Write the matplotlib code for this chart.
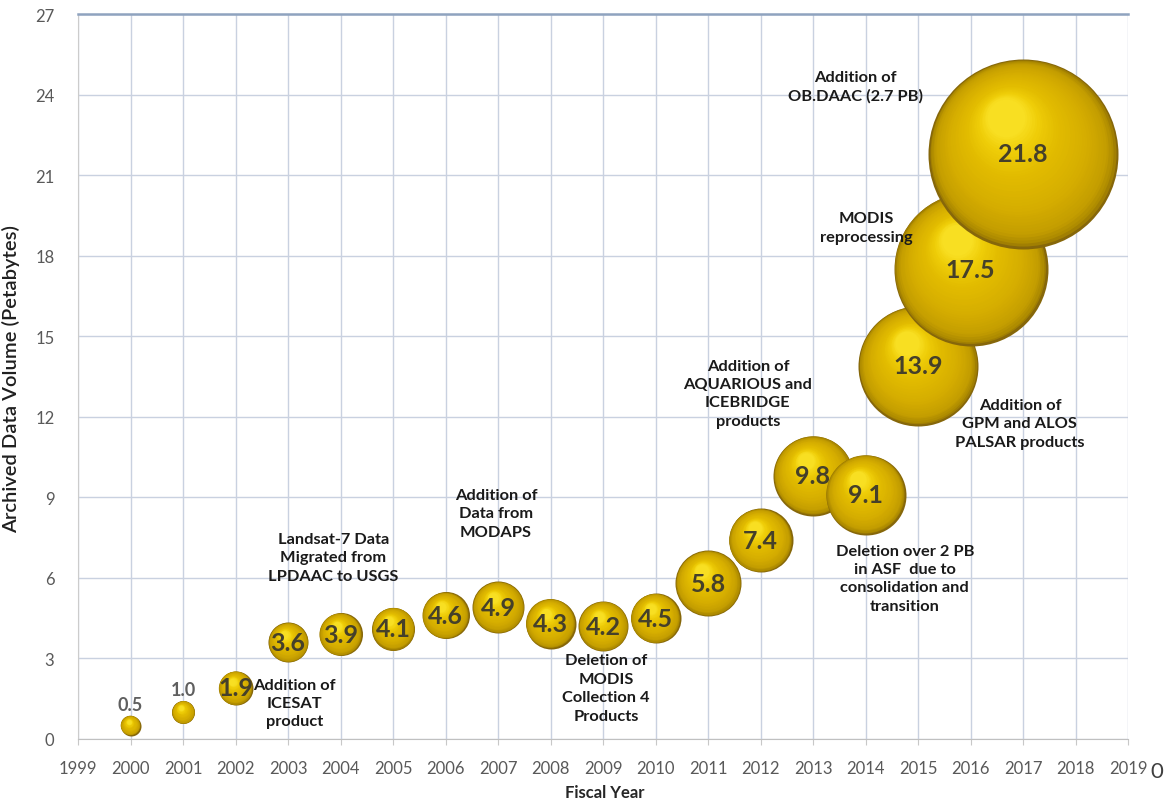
import matplotlib
matplotlib.use("Agg")
import matplotlib.pyplot as plt
from matplotlib.colors import LinearSegmentedColormap
from matplotlib.transforms import ScaledTranslation

# ---- data
years = [2000, 2001, 2002, 2003, 2004, 2005, 2006, 2007, 2008,
         2009, 2010, 2011, 2012, 2013, 2014, 2015, 2016, 2017]
volume_pb = [0.5, 1.0, 1.9, 3.6, 3.9, 4.1, 4.6, 4.9, 4.3,
             4.2, 4.5, 5.8, 7.4, 9.8, 9.1, 13.9, 17.5, 21.8]
# third (bubble size) series, relative diameter
bubble_size = [20, 23, 34, 40, 43, 43, 47, 52, 50,
               50, 50, 66, 64, 80, 80, 120, 154, 190]

x_ticks = list(range(1999, 2020))
y_ticks = list(range(0, 28, 3))

note_text = [
    "Addition of\nICESAT\nproduct",
    "Landsat-7 Data\nMigrated from\nLPDAAC to USGS",
    "Addition of\nData from\nMODAPS",
    "Deletion of\nMODIS\nCollection 4\nProducts",
    "Addition of\nAQUARIOUS and\nICEBRIDGE\nproducts",
    "Deletion over 2 PB\nin ASF  due to\nconsolidation and\ntransition",
    "Addition of\nGPM and ALOS\nPALSAR products",
    "MODIS\nreprocessing",
    "Addition of\nOB.DAAC (2.7 PB)",
]
note_xy = [
    (2003.13, 1.34), (2003.86, 6.77), (2006.96, 8.41), (2009.06, 1.90),
    (2011.76, 12.88), (2014.75, 5.99), (2016.94, 11.76), (2014.01, 19.05),
    (2013.80, 24.30),
]

DPI = 100
plt.rcParams['font.family'] = ['Lato', 'DejaVu Sans']

fig = plt.figure(figsize=(11.66, 8.04), dpi=DPI)
ax = fig.add_axes([78 / 1166, 64 / 804, 1050 / 1166, 725 / 804])

gold = LinearSegmentedColormap.from_list('gold', [
    (0.0, '#86670a'), (0.03, '#a98600'), (0.12, '#c49e00'),
    (0.35, '#d6ae00'), (0.65, '#e2bc00'), (0.85, '#efcd08'),
    (1.0, '#f8df22')])


def sphere(ax, x, y, diam, z, n=40):
    # layered discs shifted toward the highlight -> shaded ball
    r = diam / 2.0
    for i in range(n):
        t = i / (n - 1)
        rr = r * (1 - 0.8 * t)
        off = ScaledTranslation(-0.18 * r * t / DPI, 0.38 * r * t / DPI,
                                fig.dpi_scale_trans)
        ax.plot([x], [y], 'o', ms=2 * rr * 72 / DPI, color=gold(t), mew=0,
                transform=ax.transData + off, zorder=z + t * 0.5)


for i, (yr, v, s) in enumerate(zip(years, volume_pb, bubble_size)):
    sphere(ax, yr, v, s, 3 + i)
    if s < 30:
        ax.annotate(f"{v:.1f}", (yr, v), xytext=(0, s * 0.72 / 2 + 8),
                    textcoords='offset points', ha='center', va='center',
                    fontsize=13, fontweight='bold', color='#5f5f5f',
                    zorder=50)
    else:
        ax.text(yr, v, f"{v:.1f}", ha='center', va='center', fontsize=18,
                fontweight='bold', color='#45402a', zorder=50)

for txt, (nx, ny) in zip(note_text, note_xy):
    ax.text(nx, ny, txt, ha='center', va='center', fontsize=11.8,
            fontweight='bold', color='#1a1a1a', linespacing=1.4, zorder=60)

ax.set_xlim(1999, 2019)
ax.set_ylim(0, 27)
ax.set_xticks(x_ticks)
ax.set_yticks(y_ticks)
ax.tick_params(axis='x', length=4, color='#c8c8c8', pad=11,
               labelsize=12, labelcolor='#595959')
ax.tick_params(axis='y', length=0, pad=17, labelsize=12,
               labelcolor='#595959')
ax.grid(True, color='#c9d1e0', linewidth=1.0)
ax.set_axisbelow(True)

ax.spines['top'].set_color('#8fa3bf')
ax.spines['top'].set_linewidth(1.8)
ax.spines['left'].set_color('#cccccc')
ax.spines['bottom'].set_color('#c0c0c0')
ax.spines['right'].set_visible(False)

ax.set_ylabel('Archived Data Volume (Petabytes)', fontsize=14.5,
              fontweight='semibold', color='#1f1f1f')
ax.yaxis.set_label_coords(-0.055, 0.498)
ax.set_xlabel('Fiscal Year', fontsize=12, fontweight='bold', color='#262626')
ax.xaxis.set_label_coords(0.502, -0.062)

fig.text(1157 / 1166, 1 - 772 / 804, '0', fontsize=16, color='#404040',
         ha='center', va='center')

fig.savefig('out.png', dpi=DPI)
